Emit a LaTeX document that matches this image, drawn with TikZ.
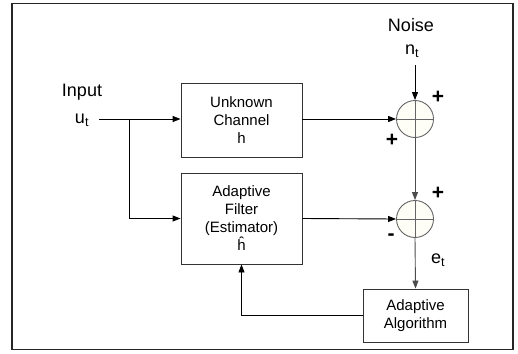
\documentclass[tikz,border=0pt]{standalone}
\usepackage{fontspec}
\setmainfont{Liberation Sans}
\usetikzlibrary{arrows.meta}
\begin{document}
\begin{tikzpicture}[x=1pt,y=-1pt,
  blk/.style={draw=black!80,line width=0.9pt,minimum width=121pt,align=center,font=\fontsize{15}{18}\selectfont,inner sep=0pt},
  sumnode/.style={circle,draw=black!60,fill=black!8!yellow!3!white,line width=0.9pt,minimum size=37pt,inner sep=0pt},
  arr/.style={line width=0.9pt,-{Triangle[length=8pt,width=6pt]}},
  lbl/.style={font=\fontsize{18}{21}\selectfont,inner sep=0pt},
  sgn/.style={font=\fontsize{21}{21}\selectfont\bfseries,inner sep=0pt}]
\useasboundingbox (0,0) rectangle (518,353);
\draw[line width=1.4pt,black!85] (12,3.5) rectangle (513,349.5);
\node[blk,minimum height=74pt] (uc) at (241.5,120) {Unknown\\Channel\\h};
\node[blk,minimum height=91pt] (af) at (241.5,218.5) {Adaptive\\Filter\\(Estimator)\\\^{h}};
\node[blk,minimum width=105pt,minimum height=53pt] (aa) at (415.5,315.5) {Adaptive\\Algorithm};
\node[sumnode] (s1) at (415,119) {};
\node[sumnode] (s2) at (415,219) {};
\draw[black!60,line width=0.9pt] (s1.west) -- (s1.east) (s1.north) -- (s1.south);
\draw[black!60,line width=0.9pt] (s2.west) -- (s2.east) (s2.north) -- (s2.south);
\node[lbl] (inp) at (82,92) {Input};
\node[lbl] (ut) at (82,120) {u\textsubscript{t}};
\node[lbl] (noise) at (411,25) {Noise};
\node[lbl] (nt) at (412,51) {n\textsubscript{t}};
\node[lbl] (et) at (438,260) {e\textsubscript{t}};
\node[sgn] (p1) at (438,97) {+};
\node[sgn] (p2) at (392,140) {+};
\node[sgn] (p3) at (438,193) {+};
\node[sgn] (m1) at (391,237) {-};
\coordinate (st) at (99,119);
\coordinate (br) at (129,119);
\coordinate (nt0) at (415,65);
\draw[arr] (st) -- (uc.west |- st);
\draw[arr] (br) |- (af.west);
\draw[arr] (nt0) -- (s1.north);
\draw[arr] (uc.east |- s1) -- (s1.west);
\draw[arr,black!70] (s1.south) -- (s2.north);
\draw[arr] (af.east) -- (s2.west);
\draw[arr,black!70] (s2.south) -- (aa.north);
\draw[arr] (aa.west) -| (af.south);
\end{tikzpicture}
\end{document}
